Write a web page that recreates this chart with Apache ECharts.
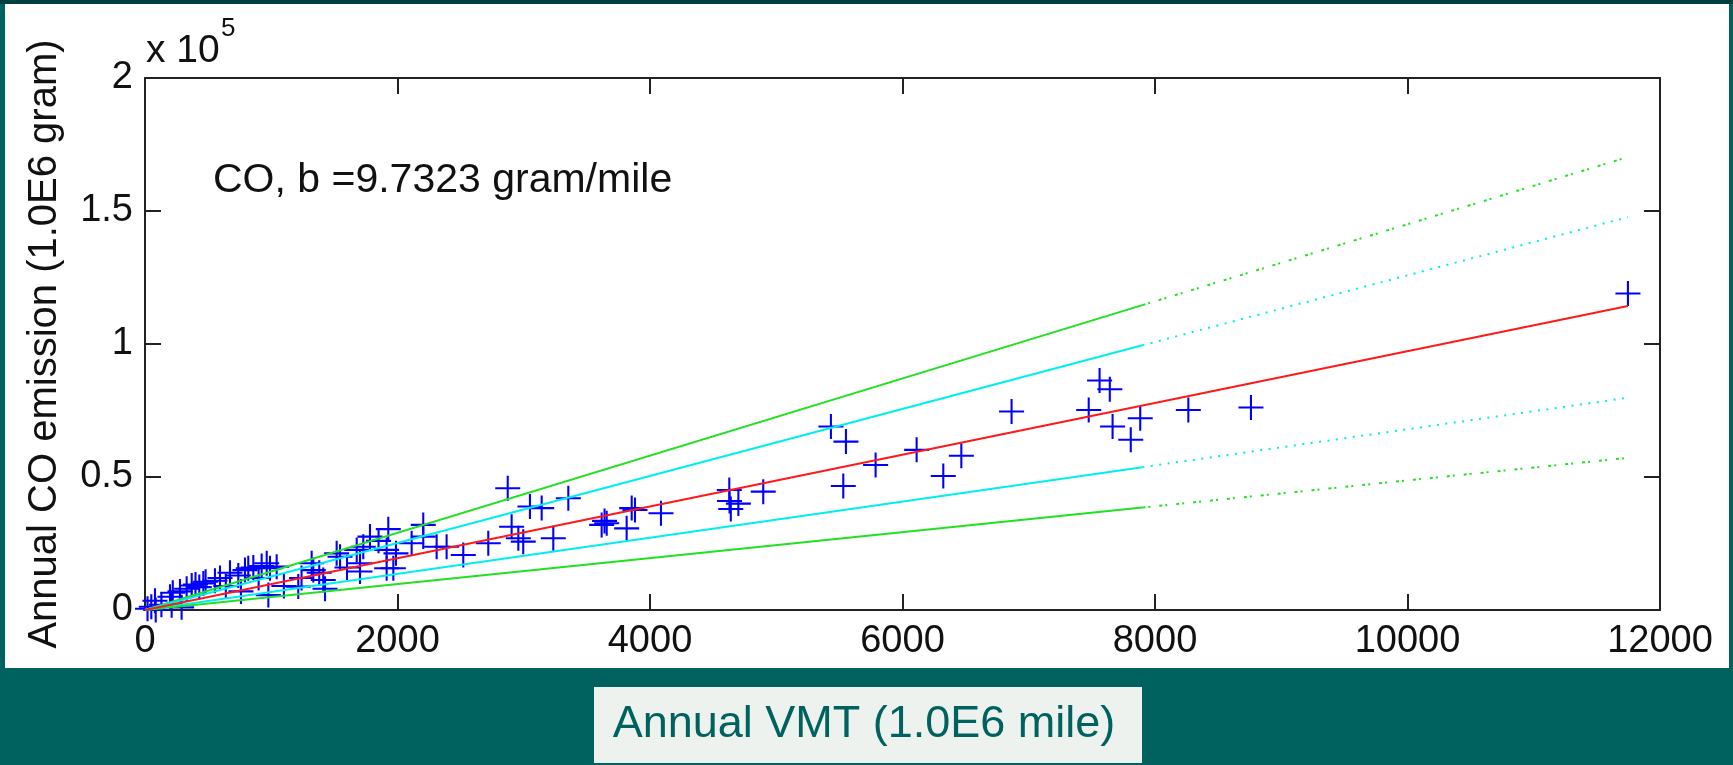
<!DOCTYPE html>
<html><head><meta charset="utf-8">
<script src="https://cdn.jsdelivr.net/npm/echarts@6/dist/echarts.min.js"></script>
<style>
html,body{margin:0;padding:0;width:1733px;height:765px;overflow:hidden;background:#00625f;}
#topstrip{position:absolute;left:0;top:0;width:1733px;height:4px;background:#003f3f;}
#panel{position:absolute;left:5px;top:4px;width:1724px;height:664px;background:#fff;}
#chart{position:absolute;left:0;top:0;width:1733px;height:765px;}
</style></head><body>
<div id="topstrip"></div><div id="panel"></div><div id="chart"></div>
<script>
// Annual VMT (1.0E6 mile)
const vmt = [20,50,79,85,130,198,211,220,277,290,330,370,400,430,462,480,554,594,640,673,739,760,792,818,858,900,924,964,977,990,
  1043,1100,1214,1240,1320,1333,1380,1412,1426,1518,1545,1600,1677,1703,1703,1729,1782,1850,1914,1927,1914,1967,1988,
  2112,2204,2204,2310,2389,2521,2719,2873,2904,2957,2996,3049,3142,3234,3353,3617,3640,3657,3815,3855,3881,4087,
  4628,4630,4640,4700,4897,5433,5552,5531,5787,6112,6323,6466,6864,7475,7561,7642,7664,7808,7883,8264,8760,11746];
// Annual CO emission (1.0E6 gram)
const co = [500,1200,3500,0,2000,5000,1800,6500,7000,1000,8000,9200,9600,8600,10000,10600,11000,12000,9000,14000,13000,7000,15000,15700,16000,12000,16500,17600,5600,15700,
  16300,9000,8800,12000,17600,15000,14000,11300,8000,21300,20000,16000,22600,17600,14500,23800,27600,26000,15700,30400,22600,15700,21300,
  25100,27600,32000,23800,23800,20700,25100,45800,31300,27000,25700,38900,38300,27000,42000,32000,33500,32600,30700,38300,37600,36400,
  45100,41000,38000,40000,44500,69000,63300,46600,54500,60200,50400,58000,74600,75200,86300,83000,69000,64000,72100,75200,76100,119000];
// fitted line (b = 9.7323 gram/mile) and bound lines, endpoints
const fitRed = [[0,0],[11746,114300]];
const greenHiNear = [[0,0],[7900,114600]], greenHiFar = [[7900,114600],[11746,170300]];
const cyanHiNear = [[0,0],[7900,99500]], cyanHiFar = [[7900,99500],[11746,147700]];
const cyanLoNear = [[0,0],[7900,53700]], cyanLoFar = [[7900,53700],[11746,79800]];
const greenLoNear = [[0,0],[7900,38500]], greenLoFar = [[7900,38500],[11746,57200]];
const xTickLabels = ['0','2000','4000','6000','8000','10000','12000'];
const yTickLabels = ['0','0.5','1','1.5','2'];

const FONT = '"Liberation Sans", Arial, sans-serif';
const chart = echarts.init(document.getElementById('chart'), null, {renderer:'canvas'});
const axisLine = {show:true, onZero:false, lineStyle:{color:'#222', width:2}};
const tick = {show:true, inside:true, length:16, lineStyle:{color:'#222', width:2}};
const plus = 'path://M11,0h2v11h11v2h-11v11h-2v-11h-11v-2h11z';
function lineSeries(data, color, type){
  return {type:'line', data, symbol:'none', silent:true, xAxisIndex:0, yAxisIndex:0,
    lineStyle:{color, width:2, type}, z:3};
}
chart.setOption({
  animation:false,
  backgroundColor:'transparent',
  grid:{left:145, top:78, width:1515, height:532, containLabel:false},
  xAxis:[
    {type:'value', min:0, max:12000, interval:2000, position:'bottom',
     axisLine, axisTick:tick, splitLine:{show:false},
     axisLabel:{color:'#111', fontSize:38, fontFamily:FONT, margin:13,
       formatter:v=>xTickLabels[Math.round(v/2000)]}},
    {type:'value', min:0, max:12000, interval:2000, position:'top',
     axisLine, axisTick:tick, splitLine:{show:false}, axisLabel:{show:false}}
  ],
  yAxis:[
    {type:'value', min:0, max:200000, interval:50000, position:'left',
     axisLine, axisTick:tick, splitLine:{show:false},
     axisLabel:{color:'#111', fontSize:38, fontFamily:FONT, margin:12,
       formatter:v=>yTickLabels[Math.round(v/50000)]},
     name:'Annual CO emission (1.0E6 gram)', nameLocation:'middle', nameRotate:90, nameGap:80,
     nameTextStyle:{color:'#111', fontSize:40, fontFamily:FONT}},
    {type:'value', min:0, max:200000, interval:50000, position:'right',
     axisLine, axisTick:tick, splitLine:{show:false}, axisLabel:{show:false}}
  ],
  series:[
    {type:'scatter', data: vmt.map((x,i)=>[x, co[i]]), symbol:plus, symbolSize:25,
     itemStyle:{color:'#0000ff', opacity:1}, z:2},
    lineSeries(greenHiNear, '#22e022', 'solid'),
    lineSeries(greenHiFar, '#22e022', [3,3,2,9]),
    lineSeries(cyanHiNear, '#00eeee', 'solid'),
    lineSeries(cyanHiFar, '#00eeee', [2,6.5]),
    lineSeries(cyanLoNear, '#00eeee', 'solid'),
    lineSeries(cyanLoFar, '#00eeee', [2,6.5]),
    lineSeries(greenLoNear, '#22e022', 'solid'),
    lineSeries(greenLoFar, '#22e022', [3,3,2,9]),
    lineSeries(fitRed, '#ff1a1a', 'solid')
  ],
  graphic:[
    {type:'text', left:146, top:32, style:{text:'x 10', fontSize:39, fontFamily:FONT, fill:'#111'}},
    {type:'text', left:221, top:16, style:{text:'5', fontSize:26, fontFamily:FONT, fill:'#111'}},
    {type:'text', left:213, top:160, style:{text:'CO, b =9.7323 gram/mile', fontSize:41, fontFamily:FONT, fill:'#111'}},
    {type:'rect', shape:{x:594, y:687, width:548, height:76}, style:{fill:'#eef2ef'}},
    {type:'text', x:864, y:725, style:{text:'Annual VMT (1.0E6 mile)', fontSize:45, fontFamily:FONT, fill:'#00625f', align:'center', verticalAlign:'middle'}}
  ]
});
</script></body></html>
